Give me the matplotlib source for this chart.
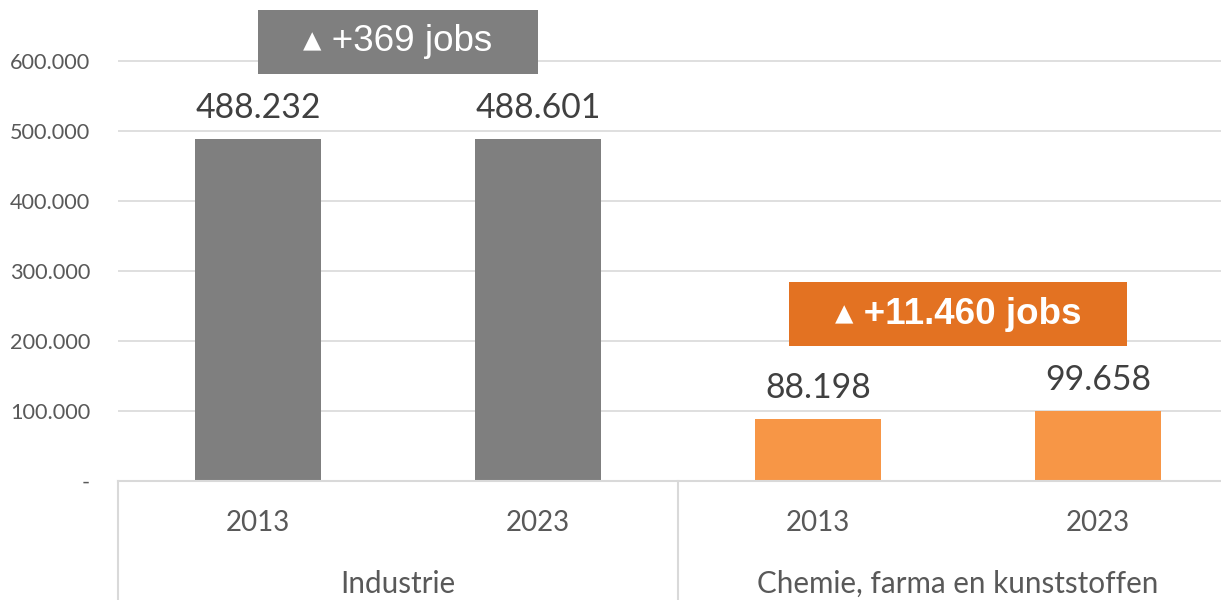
import matplotlib
matplotlib.use("Agg")
import matplotlib.pyplot as plt
from matplotlib.path import Path
from matplotlib.ticker import FuncFormatter
import matplotlib.transforms as mtransforms

# data
groups = ["Industrie", "Chemie, farma en kunststoffen"]
years = ["2013", "2023"]
jobs_industrie = [488232, 488601]
jobs_chemie = [88198, 99658]

bar_colors = ["#7F7F7F", "#F79646"]
box_colors = ["#7F7F7F", "#E37222"]
box_weights = ["normal", "bold"]
grid_color = "#D9D9D9"


def box_style(padx, pady):
    # rectangle with separate horizontal / vertical padding
    def style(x0, y0, width, height, mutation_size):
        px = padx * mutation_size
        py = pady * mutation_size
        return Path([(x0 - px, y0 - py), (x0 + width + px, y0 - py),
                     (x0 + width + px, y0 + height + py),
                     (x0 - px, y0 + height + py), (x0 - px, y0 - py)],
                    closed=True)
    return style


def fmt(v, pos=None):
    if v == 0:
        return "-"
    return f"{v:,.0f}".replace(",", ".")


fig = plt.figure(figsize=(12.21, 6.0), dpi=100)
ax = fig.add_axes([118 / 1221, 119 / 600, 1120 / 1221, 481 / 600])

series = [jobs_industrie, jobs_chemie]
n = len(years)
xticks, xlabels = [], []
for g, vals in enumerate(series):
    xs = [g * n + i for i in range(n)]
    ax.bar(xs, vals, width=0.447, color=bar_colors[g], zorder=2)
    for x, v in zip(xs, vals):
        ax.annotate(fmt(v), (x, v), xytext=(0, 15), textcoords="offset points",
                    ha="center", va="baseline", fontsize=24.3,
                    family="Lato", color="#404040")
    xticks += xs
    xlabels += years
    # change box
    diff = vals[-1] - vals[0]
    ax.annotate("\u25b4 +" + fmt(diff) + " jobs", ((xs[0] + xs[-1]) / 2, max(vals)),
                xytext=(0, 70), textcoords="offset points",
                ha="center", va="center", fontsize=26.5, color="white",
                fontweight=box_weights[g],
                family=["Liberation Sans", "DejaVu Sans"],
                bbox=dict(boxstyle=box_style(1.24, 0.39), fc=box_colors[g], ec="none"),
                zorder=5)

ax.set_xlim(-0.5, len(xticks) - 0.5)
ax.set_ylim(0, 687000)
ax.set_yticks(range(0, 600001, 100000))
ax.yaxis.set_major_formatter(FuncFormatter(fmt))
ax.set_xticks(xticks)
ax.set_xticklabels(xlabels)
ax.tick_params(axis="y", length=0, pad=20, labelsize=15.6, labelcolor="#595959")
ax.tick_params(axis="x", length=0, pad=21, labelsize=20, labelcolor="#595959")
for lab in ax.get_xticklabels() + ax.get_yticklabels():
    lab.set_family("Lato")

ax.grid(axis="y", color=grid_color, lw=1.2, zorder=0)
for s in ["left", "right", "top"]:
    ax.spines[s].set_visible(False)
ax.spines["bottom"].set_color(grid_color)
ax.spines["bottom"].set_linewidth(1.5)

# group separators and group labels
trans = mtransforms.blended_transform_factory(ax.transData, ax.transAxes)
for g in range(len(groups) + 1):
    ax.plot([g * n - 0.5] * 2, [0, -0.3], transform=trans, color=grid_color,
            lw=1.5, clip_on=False)
for g, name in enumerate(groups):
    ax.annotate(name, (g * n + (n - 1) / 2, 0), xycoords=trans,
                xytext=(0, -74), textcoords="offset points",
                ha="center", va="center", fontsize=21.3, family="Lato",
                color="#595959")

fig.savefig("out.png", dpi=100)
